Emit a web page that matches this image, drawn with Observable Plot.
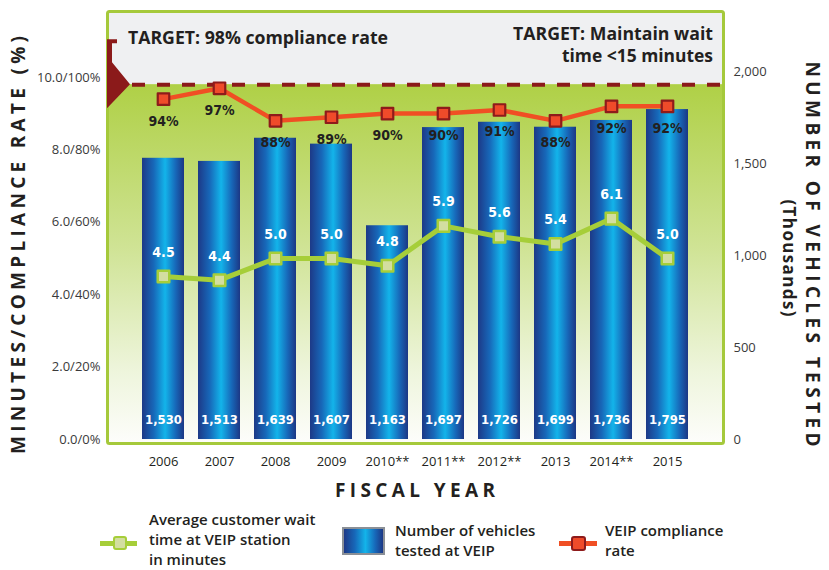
<!DOCTYPE html>
<html>
<head>
<meta charset="utf-8">
<script src="https://cdn.jsdelivr.net/npm/d3@7"></script>
<script src="https://cdn.jsdelivr.net/npm/@observablehq/plot@0.6"></script>
<style>
  body { margin: 0; background: #fff; }
  #wrap { position: relative; width: 829px; height: 570px; font-family: "Open Sans", sans-serif; color: #231f20; overflow: hidden; }
  .lg-text { position: absolute; font-size: 15px; font-weight: 600; line-height: 14px; white-space: nowrap; }
  .abs { position: absolute; box-sizing: border-box; }
</style>
</head>
<body>
<div id="wrap"></div>
<script>
// ---- data ----
const years = ["2006", "2007", "2008", "2009", "2010**", "2011**", "2012**", "2013", "2014**", "2015"];
const waitMinutes = [4.5, 4.4, 5.0, 5.0, 4.8, 5.9, 5.6, 5.4, 6.1, 5.0];
const vehiclesThousands = [1530, 1513, 1639, 1607, 1163, 1697, 1726, 1699, 1736, 1795];
const compliancePct = [94, 97, 88, 89, 90, 90, 91, 88, 92, 92];
const targetPct = 98;
const leftTicks = [0, 2, 4, 6, 8, 10];
const rightTicks = [0, 500, 1000, 1500, 2000];
const yDomain = [-0.11, 11.82];   // minutes scale (10 min = 100%)

const rows = years.map((year, i) => ({
  year, wait: waitMinutes[i], vehicles: vehiclesThousands[i], compliance: compliancePct[i]
}));
const vScale = v => v / 197;   // thousands -> minutes-units
const pScale = p => p / 10;    // percent -> minutes-units

const W = 829, H = 505;
const plot = Plot.plot({
  width: W, height: H,
  marginLeft: 107, marginRight: 106, marginTop: 11, marginBottom: 62,
  style: { fontFamily: "Open Sans, sans-serif", fontSize: "13px", background: "transparent", overflow: "visible" },
  x: { type: "band", domain: years, paddingInner: 0.25, paddingOuter: 0.595, align: 0.5 },
  y: { domain: yDomain },
  marks: [
    Plot.rect([0], { y1: () => pScale(targetPct), y2: () => yDomain[1], fill: "#eff0f2" }),
    Plot.rect([0], { y1: () => yDomain[0], y2: () => pScale(targetPct), fill: "url(#bgGrad)" }),
    Plot.barY(rows, { x: "year", y1: () => 0, y2: d => vScale(d.vehicles), fill: "url(#barGrad)" }),
    Plot.frame({ stroke: "#a5c93b", strokeWidth: 3, rx: 2 }),
    Plot.ruleY([pScale(targetPct)], { stroke: "#8b1a1a", strokeWidth: 4, strokeDasharray: "13,12" }),
    Plot.line(rows, { x: "year", y: d => pScale(d.compliance), stroke: "#f04f24", strokeWidth: 4.5 }),
    Plot.dot(rows, { x: "year", y: d => pScale(d.compliance), symbol: "square", r: 6.5, fill: "#ef4b2a", stroke: "#8e1b1b", strokeWidth: 2.2, strokeLinejoin: "round" }),
    Plot.line(rows, { x: "year", y: "wait", stroke: "#a6ce39", strokeWidth: 5 }),
    Plot.dot(rows, { x: "year", y: "wait", symbol: "square", r: 6.5, fill: "#d3dea0", stroke: "#a6ce39", strokeWidth: 2.5, strokeLinejoin: "round" }),
    Plot.text(rows, { x: "year", y: d => pScale(d.compliance), text: d => d.compliance + "%", dy: 22, fill: "#231f20", fontFamily: "DejaVu Sans Condensed", fontWeight: "bold", fontSize: 14 }),
    Plot.text(rows, { x: "year", y: "wait", text: d => d.wait.toFixed(1), dy: -24, fill: "#ffffff", fontFamily: "DejaVu Sans Condensed", fontWeight: "bold", fontSize: 14 }),
    Plot.text(rows, { x: "year", y: () => 0, text: d => d3.format(",")(d.vehicles), dy: -20, fill: "#ffffff", fontFamily: "DejaVu Sans Condensed", fontWeight: "bold", fontSize: 13 }),
    Plot.axisY(leftTicks, { anchor: "left", tickSize: 0, tickPadding: 7, label: null, fill: "#3a3a3a", fontSize: 13,
      tickFormat: d => d.toFixed(1) + "/" + (d * 10) + "%" }),
    Plot.axisY(rightTicks.map(vScale), { anchor: "right", tickSize: 0, tickPadding: 10, label: null, fill: "#3a3a3a", fontSize: 13,
      tickFormat: d => d3.format(",")(Math.round(d * 197)) }),
    Plot.axisX({ anchor: "bottom", tickSize: 0, tickPadding: 13, label: null, fill: "#231f20", fontSize: 13 })
  ]
});

const svg = d3.select(plot);
const defs = svg.insert("defs", ":first-child");
const bg = defs.append("linearGradient").attr("id", "bgGrad").attr("x1", 0).attr("y1", 0).attr("x2", 0).attr("y2", 1);
[[0, "#afd046"], [0.45, "#cfe394"], [0.8, "#eef5dc"], [1, "#fdfdfb"]].forEach(([o, c]) => bg.append("stop").attr("offset", o).attr("stop-color", c));
const bar = defs.append("linearGradient").attr("id", "barGrad").attr("x1", 0).attr("y1", 0).attr("x2", 1).attr("y2", 0);
[[0, "#1d3987"], [0.28, "#1768b9"], [0.55, "#13b4ea"], [0.8, "#1768b9"], [1, "#1c3784"]].forEach(([o, c]) => bar.append("stop").attr("offset", o).attr("stop-color", c));

// target marker on the left edge
const yS = plot.scale("y");
const ty = yS.apply(pScale(targetPct));
const fx = 107;
svg.append("path")
  .attr("d", `M${fx},${ty - 45} h10 v4 h-5 v19 L${fx + 23},${ty} L${fx},${ty + 24} Z`)
  .attr("fill", "#8b1a1a");

// annotations and titles
const t = (x, y, txt, opts = {}) => {
  const el = svg.append("text").attr("x", x).attr("y", y).text(txt)
    .attr("font-family", "Open Sans, sans-serif").attr("fill", "#231f20")
    .attr("font-size", opts.size || 18).attr("font-weight", opts.weight || 700)
    .attr("text-anchor", opts.anchor || "start").attr("dominant-baseline", "central");
  if (opts.rotate) el.attr("transform", `rotate(${opts.rotate},${x},${y})`);
  if (opts.len) el.attr("textLength", opts.len).attr("lengthAdjust", opts.adjust || "spacing");
  return el;
};
t(128, 37, "TARGET: 98% compliance rate", { size: 18, weight: 700, len: 260, adjust: "spacingAndGlyphs" });
t(713, 33, "TARGET: Maintain wait", { size: 18, weight: 700, anchor: "end", len: 200, adjust: "spacingAndGlyphs" });
t(713, 55, "time <15 minutes", { size: 18, weight: 700, anchor: "end", len: 151, adjust: "spacingAndGlyphs" });
t(18, 245, "MINUTES/COMPLIANCE RATE (%)", { size: 19, rotate: -90, anchor: "middle", len: 418 });
t(813, 254, "NUMBER OF VEHICLES TESTED", { size: 19, rotate: 90, anchor: "middle", len: 385 });
t(789, 258, "(Thousands)", { size: 17, rotate: 90, anchor: "middle", len: 117 });
t(415, 490, "FISCAL YEAR", { size: 19, anchor: "middle", len: 160 });

const wrap = document.getElementById("wrap");
wrap.appendChild(plot);

// legend
const add = (html, cls, style) => {
  const d = document.createElement("div");
  d.className = cls; d.innerHTML = html; Object.assign(d.style, style); wrap.appendChild(d); return d;
};
const lines = (arr, left, firstCenter) => arr.forEach((s, i) =>
  add(s, "lg-text", { left: left + "px", top: (firstCenter + i * 20 - 7) + "px" }));
add("", "abs", { left: "100px", top: "541px", width: "37px", height: "5px", background: "#a6ce39" });
add("", "abs", { left: "113px", top: "536px", width: "14px", height: "14px", background: "#d3dea0", border: "2.5px solid #a6ce39", borderRadius: "3px" });
lines(["Average customer wait", "time at VEIP station", "in minutes"], 149, 519);
add("", "abs", { left: "342px", top: "527px", width: "43px", height: "28px", border: "2px solid #8a8f96",
  background: "linear-gradient(to right, #1d3987 0%, #1768b9 28%, #13b4ea 55%, #1768b9 80%, #1c3784 100%)" });
lines(["Number of vehicles", "tested at VEIP"], 395, 530);
add("", "abs", { left: "559px", top: "541px", width: "38px", height: "5px", background: "#f04f24" });
add("", "abs", { left: "571px", top: "536px", width: "15px", height: "15px", background: "#ef4b2a", border: "2px solid #8e1b1b", borderRadius: "3px" });
lines(["VEIP compliance", "rate"], 605, 530);
</script>
</body>
</html>
